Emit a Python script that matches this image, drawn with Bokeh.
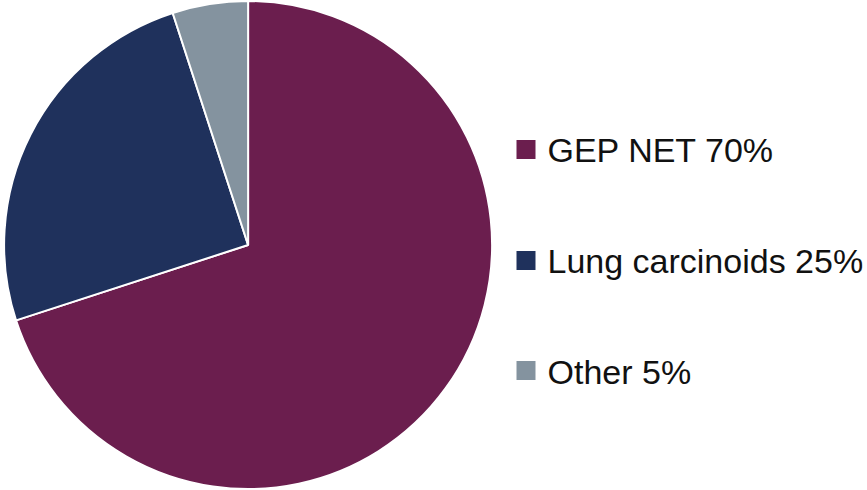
import math
from bokeh.plotting import figure
from bokeh.models import Range1d, ColumnDataSource
from bokeh.core.properties import value
from bokeh.embed import file_html
from bokeh.resources import INLINE

# ---- data ----
categories = ["GEP NET", "Lung carcinoids", "Other"]
shares = [70, 25, 5]
colors = ["#6B1E4E", "#1F315C", "#84939F"]

W, H = 867, 490
p = figure(width=W, height=H, output_backend="svg", toolbar_location=None,
           x_range=Range1d(0, W), y_range=Range1d(0, H),
           min_border=0, outline_line_color=None)
p.axis.visible = False
p.grid.visible = False
p.background_fill_color = "white"
p.border_fill_color = "white"

# pie: starts at 12 o'clock, goes clockwise
cx, cy, r = 247.6, H - 244.5, 244
total = sum(shares)
starts, ends = [], []
acc = 0.0
for s in shares:
    a_start = math.pi / 2 - 2 * math.pi * (acc + s) / total
    a_end = math.pi / 2 - 2 * math.pi * acc / total
    starts.append(a_start)
    ends.append(a_end)
    acc += s

src = ColumnDataSource(dict(start=starts, end=ends, color=colors,
                            label=[f"{c} {v}%" for c, v in zip(categories, shares)]))
p.wedge(x=cx, y=cy, radius=r, start_angle="start", end_angle="end",
        fill_color="color", line_color="white", line_width=2, source=src)

# legend drawn manually
sq_y = [H - 149, H - 260, H - 370]
txt_y = [H - 149, H - 260, H - 371]
leg = ColumnDataSource(dict(sy=sq_y, ty=txt_y, color=colors, label=src.data["label"]))
p.scatter(x=525.5, y="sy", marker="square", size=19, fill_color="color",
          line_color=None, source=leg)
p.text(x=547, y="ty", text="label", source=leg, text_font=value("Liberation Sans"),
       text_font_size="34px", text_color="#111111", text_baseline="alphabetic",
       text_align="left")

open("out.html", "w").write(file_html(p, INLINE))
